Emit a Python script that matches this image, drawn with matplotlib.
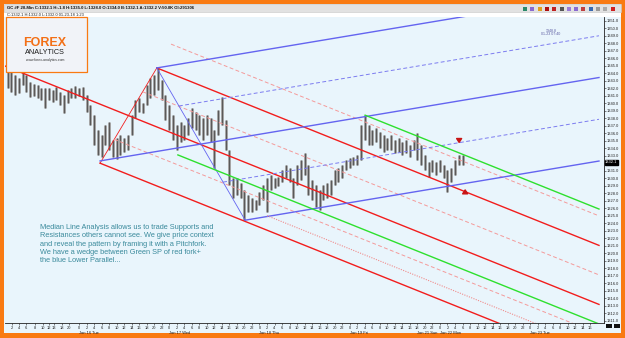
import matplotlib
matplotlib.use("Agg")
import matplotlib.pyplot as plt
import matplotlib.transforms as mtrans
from matplotlib.patches import Rectangle

# hourly bars, x = hours from Jan 16 00:00 (weekend gap removed)
bar_hours = list(range(-19, 103))
bar_highs = [1344.8, 1344.2, 1343.8, 1343.3, 1344.4, 1343.8, 1342.8, 1342.6, 1342.4, 1342.0,
             1342.0, 1342.0, 1341.8, 1342.1, 1341.5, 1341.1, 1341.8, 1342.0, 1342.3, 1342.0,
             1342.1, 1341.1, 1339.8, 1338.4, 1336.4, 1335.8, 1337.1, 1337.5, 1335.1, 1335.4,
             1335.8, 1335.4, 1335.8, 1338.4, 1340.4, 1340.7, 1340.0, 1342.4, 1343.3, 1343.8,
             1344.7, 1343.1, 1341.1, 1339.8, 1338.4, 1337.1, 1337.5, 1337.1, 1338.0, 1339.4,
             1338.8, 1338.4, 1338.0, 1338.4, 1338.0, 1336.4, 1339.1, 1340.8, 1337.8, 1333.8,
             1330.0, 1330.0, 1329.4, 1328.4, 1327.8, 1327.4, 1327.1, 1328.2, 1329.1, 1330.0,
             1330.4, 1330.0, 1330.2, 1331.1, 1331.8, 1331.4, 1330.0, 1331.8, 1332.4, 1333.4,
             1331.8, 1329.8, 1329.1, 1328.4, 1329.1, 1329.4, 1329.8, 1331.1, 1331.4, 1331.8,
             1332.4, 1332.7, 1332.8, 1333.1, 1337.1, 1338.4, 1337.1, 1336.4, 1336.7, 1336.2,
             1335.8, 1335.4, 1335.8, 1335.1, 1335.4, 1334.8, 1335.1, 1334.4, 1335.1, 1336.0,
             1334.4, 1333.1, 1332.1, 1332.4, 1332.1, 1332.4, 1331.8, 1331.1, 1331.4, 1332.4,
             1333.1, 1333.1]
bar_lows = [1342.0, 1341.5, 1341.1, 1341.4, 1342.4, 1341.5, 1340.8, 1341.0, 1340.7, 1340.4,
            1339.4, 1340.4, 1340.2, 1340.4, 1339.8, 1338.7, 1340.0, 1340.7, 1340.7, 1341.0,
            1340.4, 1338.8, 1337.1, 1334.4, 1333.1, 1332.8, 1334.4, 1333.8, 1332.8, 1332.6,
            1333.1, 1333.5, 1333.8, 1335.8, 1338.0, 1338.8, 1338.7, 1339.8, 1340.7, 1341.1,
            1341.8, 1340.4, 1337.8, 1336.4, 1335.1, 1333.8, 1334.8, 1335.1, 1335.8, 1336.7,
            1336.4, 1335.8, 1335.1, 1335.8, 1334.8, 1331.4, 1335.8, 1337.1, 1333.8, 1329.1,
            1327.4, 1327.8, 1327.4, 1324.4, 1325.5, 1325.5, 1325.8, 1326.4, 1327.1, 1325.5,
            1328.4, 1328.7, 1328.9, 1329.5, 1330.0, 1329.5, 1327.4, 1329.1, 1329.8, 1330.4,
            1327.8, 1327.1, 1326.2, 1325.8, 1327.1, 1327.4, 1327.8, 1329.1, 1329.5, 1330.0,
            1331.1, 1331.4, 1331.8, 1331.8, 1332.4, 1335.1, 1334.4, 1334.4, 1334.8, 1334.0,
            1333.5, 1333.8, 1333.8, 1333.4, 1333.5, 1333.1, 1333.4, 1332.8, 1333.8, 1332.4,
            1331.8, 1331.1, 1330.1, 1330.8, 1330.4, 1330.8, 1330.0, 1328.2, 1329.5, 1330.4,
            1331.8, 1331.8]
last_price = 1332.1

# pitchfork pivots (hour, price): handle, then the two swing points
red_fork = [(-19.7, 1344.96), (20.7, 1344.7), (5.6, 1332.0)]
blue_fork = [(5.6, 1332.3), (20.7, 1344.7), (44.2, 1324.4)]
green_sp = [(76.1, 1338.4), (26.3, 1333.1)]
dotted_sp = [(50.0, 1325.0)]
arrow_down = (101.1, 1334.4)
arrow_up = (102.7, 1328.8)
line_end = 138.3

price_ticks = list(range(1311, 1352))
jan15_ticks = [-17.9, -16.0, -14.1, -11.8, -9.7, -7.9, -6.6, -4.4, -2.6]
jan15_labels = ['2', '4', '6', '8', '10', '12', '13', '18', '20']
day_names = ['Jan 16 Tue', 'Jan 17 Wed', 'Jan 18 Thu', 'Jan 19 Fri', 'Jan 21 Sun', 'Jan 22 Mon', 'Jan 23 Tue']
day_starts = [0, 24, 48, 72, 90, 96, 120]
day_first_hour = [0, 0, 0, 0, 18, 0, 0]
day_last_hour = [22, 22, 22, 16, 22, 22, 16]

header = "GC #F 20-Min C:1332.1 H:-1.8 H:1335.0 L:1328.0 O:1334.0 B:1332.1 A:1332.2 V:50.0K OI:291306"
subheader = "C:1332.1 H:1332.0 L:1332.0 01-23-18 1:23"
note = ("Median Line Analysis allows us to trade Supports and\n"
        "Resistances others cannot see. We give price context\n"
        "and reveal the pattern by framing it with a Pitchfork.\n"
        "We have a wedge between Green SP of red fork+\n"
        "the blue Lower Parallel...")
toolbar_colors = ['#2a8a6a', '#8a6ad0', '#e0a020', '#b01010', '#c02020', '#555555',
                  '#9a7ad8', '#8a6ad0', '#c04040', '#3a6ab0', '#999999', '#aaaaaa', '#d02020']

W, H = 625, 338
ORANGE = '#f97a12'
BG = '#e9f5fc'
plt.rcParams['font.family'] = ['Liberation Sans', 'DejaVu Sans']

fig = plt.figure(figsize=(W / 100, H / 100), dpi=100, facecolor=ORANGE)


def fx(px):
    return px / W


def fy(py):
    return 1 - py / H


fig.patches.append(Rectangle((fx(4), fy(333)), fx(617), 329 / H, transform=fig.transFigure,
                             facecolor=BG, edgecolor='none', zorder=-5))
fig.patches.append(Rectangle((fx(4), fy(17)), fx(617), 5 / H, transform=fig.transFigure,
                             facecolor='white', edgecolor='none', zorder=-4))
fig.patches.append(Rectangle((fx(4), fy(12)), fx(617), 8 / H, transform=fig.transFigure,
                             facecolor='#e2e2e2', edgecolor='#c8c8c8', lw=0.4, zorder=-4))
fig.text(fx(7), fy(8.3), header, fontsize=3.1, fontweight='bold', va='center', color='#111111')
fig.text(fx(7), fy(15), subheader, fontsize=2.9, va='center', color='#222222')
for i, c in enumerate(toolbar_colors):
    fig.patches.append(Rectangle((fx(523 + 7.3 * i), fy(10.5)), fx(4), 4 / H,
                                 transform=fig.transFigure, facecolor=c, edgecolor='none', zorder=2))

ax = fig.add_axes([fx(5), 1 - 323 / H, fx(599), 306 / H])
ax.set_facecolor(BG)
ax.set_xlim(-19.68, 139.63)
ax.set_ylim(1310.69, 1351.49)

# price bars
ax.vlines(bar_hours, bar_lows, bar_highs, color='#a2a2a2', lw=2.1, zorder=3)
ax.vlines(bar_hours, bar_lows, bar_highs, color='#3a3a3a', lw=0.5, zorder=4)


def ray(x0, y0, slope, **kw):
    ax.plot([x0, line_end], [y0, y0 + slope * (line_end - x0)], **kw)


def pitchfork(piv, color, half_color, warn_fracs):
    (x1, y1), (x2, y2), (x3, y3) = piv
    mx, my = (x2 + x3) / 2, (y2 + y3) / 2
    slope = (my - y1) / (mx - x1)
    for x0, y0 in piv:
        ray(x0, y0, slope, color=color, lw=1.0, zorder=5)
    ax.plot([x2, x3], [y2, y3], color=color, lw=0.6, zorder=5)
    for f in [0.25, 0.75] + warn_fracs:
        ray(x2 + f * (x3 - x2), y2 + f * (y3 - y2), slope, color=half_color,
            lw=0.7, ls=(0, (4, 2.5)), zorder=5)
    return slope


red_slope = pitchfork(red_fork, '#f21d1d', '#f49a9a', [-0.25])
pitchfork(blue_fork, '#6464f0', '#7c7cf0', [])
for x0, y0 in green_sp:
    ray(x0, y0, red_slope, color='#2ee02e', lw=1.0, zorder=5)
for x0, y0 in dotted_sp:
    ray(x0, y0, red_slope, color='#f08c8c', lw=0.8, ls=(0, (1, 1.2)), zorder=5)

for (x0, y0), d in [(arrow_down, -1), (arrow_up, 1)]:
    ax.annotate('', xy=(x0, y0), xytext=(x0, y0 - d * 0.8),
                arrowprops=dict(arrowstyle='simple,head_width=0.9,head_length=0.7,tail_width=0.4',
                                color='#c81414', mutation_scale=4), zorder=6)

ax.text(125.5, 1348.9, "1348.8\n01-23 07:40", fontsize=2.6, color='#5a5aa0',
        ha='center', va='bottom', linespacing=0.9, zorder=6)

# axes styling
for s in ['left', 'top']:
    ax.spines[s].set_visible(False)
for s in ['right', 'bottom']:
    ax.spines[s].set_linewidth(0.6)
    ax.spines[s].set_color('#222222')
ax.yaxis.tick_right()
ax.set_yticks(price_ticks)
ax.set_yticklabels(['' if p == round(last_price) else '%.1f' % p for p in price_ticks])
ax.tick_params(axis='y', labelsize=2.9, length=1.5, width=0.4, pad=0.8, colors='#222222')

xt, xl = list(jan15_ticks), list(jan15_labels)
for d0, h0, h1 in zip(day_starts, day_first_hour, day_last_hour):
    for h in range(h0, h1 + 1, 2):
        xt.append(d0 + h - h0)
        xl.append(str(h))
ax.set_xticks(xt)
ax.set_xticklabels(xl)
ax.tick_params(axis='x', labelsize=2.9, length=1.5, width=0.4, pad=0.6, colors='#222222')
for name, d0 in zip(day_names, day_starts):
    ax.text(d0, -0.033, name, transform=mtrans.blended_transform_factory(ax.transData, ax.transAxes),
            fontsize=2.9, ha='left', va='center', color='#222222')

ax.text(1.002, last_price, '%.1f' % last_price,
        transform=mtrans.blended_transform_factory(ax.transAxes, ax.transData),
        fontsize=2.9, color='white', ha='left', va='center',
        bbox=dict(boxstyle='square,pad=0.15', fc='black', ec='black'), zorder=7)
for x0 in (606, 614):
    fig.patches.append(Rectangle((fx(x0), fy(327.5)), fx(6), 4 / H, transform=fig.transFigure,
                                 facecolor='#111111', edgecolor='none', zorder=2))

# logo
fig.patches.append(Rectangle((fx(5.5), fy(72)), fx(81), 55 / H, transform=fig.transFigure,
                             facecolor='#f1f3f8', edgecolor=ORANGE, lw=0.9, zorder=5))
fig.text(fx(45), fy(42.5), 'FOREX', fontsize=9, fontweight='bold', color='#f36f16',
         ha='center', va='center', zorder=6)
fig.text(fx(45), fy(52), 'ANALYTICS', fontsize=5.2, color='#1a1a1a', ha='center', va='center', zorder=6)
fig.text(fx(45), fy(60.5), 'www.forex-analytics.com', fontsize=2.5, color='#333333',
         ha='center', va='center', zorder=6)

fig.text(fx(40), fy(244), note, fontsize=5.35, color='#3a8a9c', ha='left', va='center',
         linespacing=1.22, zorder=6)

fig.savefig('out.png', dpi=100, facecolor=ORANGE)
